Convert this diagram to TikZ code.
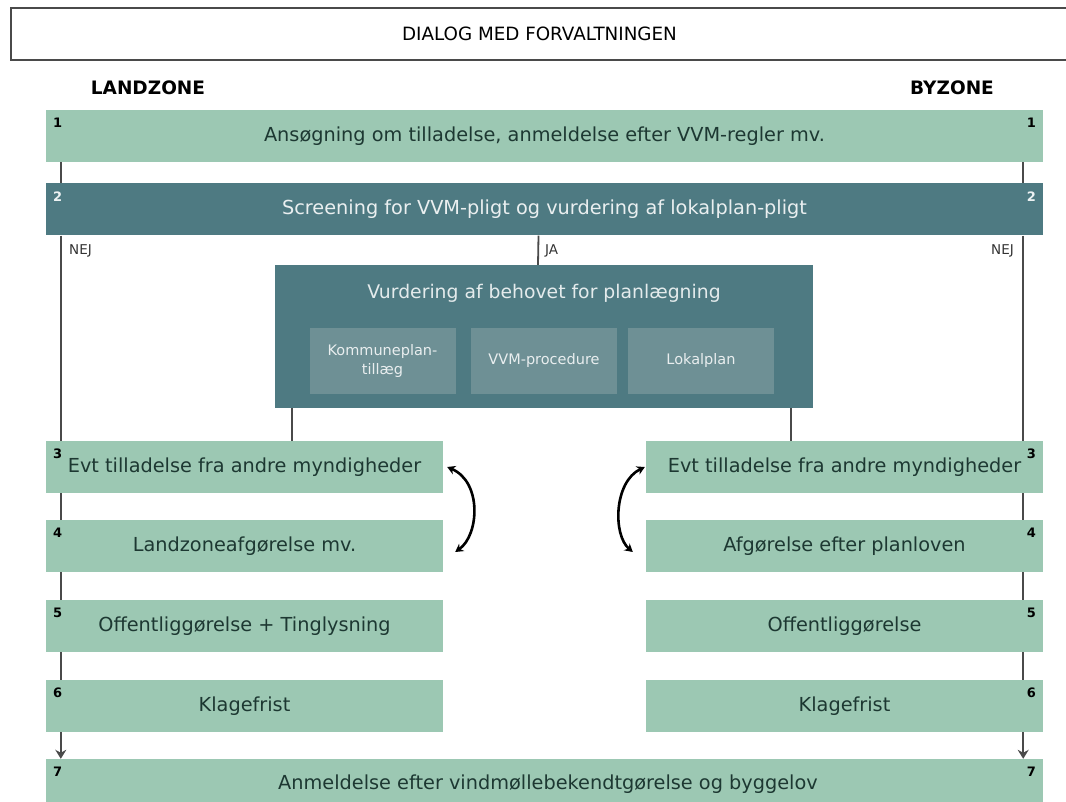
\documentclass[tikz,border=0pt]{standalone}
\usepackage{fontspec}
\setmainfont{DejaVu Sans}
\usetikzlibrary{arrows.meta}

\definecolor{stagegreen}{HTML}{9CC8B3}
\definecolor{planteal}{HTML}{4E7A82}
\definecolor{subteal}{HTML}{6E9095}
\definecolor{stagetext}{HTML}{1D3832}
\definecolor{linegray}{HTML}{4A4A4A}

\begin{document}
\begin{tikzpicture}[
    x=1pt, y=-1pt,
    stage/.style={fill=stagegreen, text=stagetext, minimum height=52pt, inner sep=0pt, font=\fontsize{19.3}{22}\selectfont},
    stagewide/.style={stage, minimum width=997pt},
    stagehalf/.style={stage, minimum width=397pt},
    screen/.style={stagewide, fill=planteal, text=white!88!planteal},
    subplan/.style={fill=subteal, text=white!85!subteal, minimum width=146pt, minimum height=66pt, inner sep=0pt, align=center, font=\fontsize{14.5}{19}\selectfont},
    num/.style={font=\bfseries\fontsize{13}{13}\selectfont, text=black, inner xsep=7pt, inner ysep=8pt},
    numw/.style={num, text=white!90!planteal},
    tag/.style={font=\fontsize{13.5}{14}\selectfont, text=black!80, inner sep=0pt},
    zonehead/.style={font=\bfseries\fontsize{18.5}{19}\selectfont},
    link/.style={draw=linegray, line width=1.8pt},
    swap/.style={line width=2.6pt, {Stealth[length=8pt,width=9pt]}-{Stealth[length=8pt,width=9pt]}}
  ]
  \useasboundingbox (0,0) rectangle (1066,802);
  \clip (0,0) rectangle (1066,802);

  % Top bar
  \node[draw=linegray, line width=1.5pt, minimum width=1057pt, minimum height=52pt, font=\fontsize{18.3}{20}\selectfont] (dialog) at (539.5,34) {DIALOG MED FORVALTNINGEN};

  \node[zonehead] (land) at (148,88) {LANDZONE};
  \node[zonehead] (by) at (952,88) {BYZONE};

  % Common steps
  \node[stagewide, label={[num,anchor=north west]north west:1}, label={[num,anchor=north east]north east:1}] (s1) at (544.5,136) {Ansøgning om tilladelse, anmeldelse efter VVM-regler mv.};
  \node[screen, label={[numw,anchor=north west]north west:2}, label={[numw,anchor=north east]north east:2}] (s2) at (544.5,209.5) {Screening for VVM-pligt og vurdering af lokalplan-pligt};

  % Planning box
  \node[fill=planteal, minimum width=538pt, minimum height=143pt] (plan) at (544,336.5) {};
  \node[font=\fontsize{18.8}{22}\selectfont, text=white!85!planteal] (plantitle) at (544,293) {Vurdering af behovet for planlægning};
  \node[subplan] (kplan) at (382.5,361) {Kommuneplan-\\tillæg};
  \node[subplan] (vvm) at (544,361) {VVM-procedure};
  \node[subplan] (lplan) at (701,361) {Lokalplan};

  % Landzone
  \node[stagehalf, label={[num,anchor=north west]north west:3}] (l3) at (244.5,467) {Evt tilladelse fra andre myndigheder};
  \node[stagehalf, label={[num,anchor=north west]north west:4}] (l4) at (244.5,546) {Landzoneafgørelse mv.};
  \node[stagehalf, label={[num,anchor=north west]north west:5}] (l5) at (244.5,626) {Offentliggørelse + Tinglysning};
  \node[stagehalf, label={[num,anchor=north west]north west:6}] (l6) at (244.5,706) {Klagefrist};

  % Byzone
  \node[stagehalf, label={[num,anchor=north east]north east:3}] (r3) at (844.5,467) {Evt tilladelse fra andre myndigheder};
  \node[stagehalf, label={[num,anchor=north east]north east:4}] (r4) at (844.5,546) {Afgørelse efter planloven};
  \node[stagehalf, label={[num,anchor=north east]north east:5}] (r5) at (844.5,626) {Offentliggørelse};
  \node[stagehalf, label={[num,anchor=north east]north east:6}] (r6) at (844.5,706) {Klagefrist};

  \node[stagewide, minimum height=60pt, label={[num,anchor=north west]north west:7}, label={[num,anchor=north east]north east:7}] (s7) at (544.5,789) {};
  \node[font=\fontsize{19.3}{22}\selectfont, text=stagetext] (s7text) at (548,784) {Anmeldelse efter vindmøllebekendtgørelse og byggelov};

  % Side lines
  \foreach \a/\b in {s1/s2, s2/l3, l3/l4, l4/l5, l5/l6}
    \draw[link] ([xshift=15pt]\a.south west) -- ([xshift=15pt]\b.north west);
  \draw[link, -{Stealth[length=9pt,width=11pt]}] ([xshift=15pt]l6.south west) -- ([xshift=15pt]s7.north west);
  \foreach \a/\b in {s1/s2, s2/r3, r3/r4, r4/r5, r5/r6}
    \draw[link] ([xshift=-20pt]\a.south east) -- ([xshift=-20pt]\b.north east);
  \draw[link, -{Stealth[length=9pt,width=11pt]}] ([xshift=-20pt]r6.south east) -- ([xshift=-20pt]s7.north east);

  % JA
  \draw[link] ([xshift=-6pt]s2.south) -- ([xshift=-6pt]plan.north);
  \draw[link] ([xshift=17pt]plan.south west) -- ([xshift=17pt]plan.south west |- l3.north);
  \draw[link] ([xshift=-22pt]plan.south east) -- ([xshift=-22pt]plan.south east |- r3.north);

  \node[tag, anchor=west] (nejl) at (69,251) {NEJ};
  \node[tag, anchor=east] (nejr) at (1014,251) {NEJ};
  \node[tag, anchor=west] (ja) at (545,251) {JA};

  % Swaps
  \draw[swap] ([xshift=4pt]l3.east) .. controls +(35,15) and +(24,-17) .. ([xshift=12pt,yshift=-6pt]l4.east);
  \draw[swap] ([xshift=-1pt]r3.west) .. controls +(-31,15) and +(-20,-17) .. ([xshift=-13pt,yshift=-6pt]r4.west);
\end{tikzpicture}
\end{document}
